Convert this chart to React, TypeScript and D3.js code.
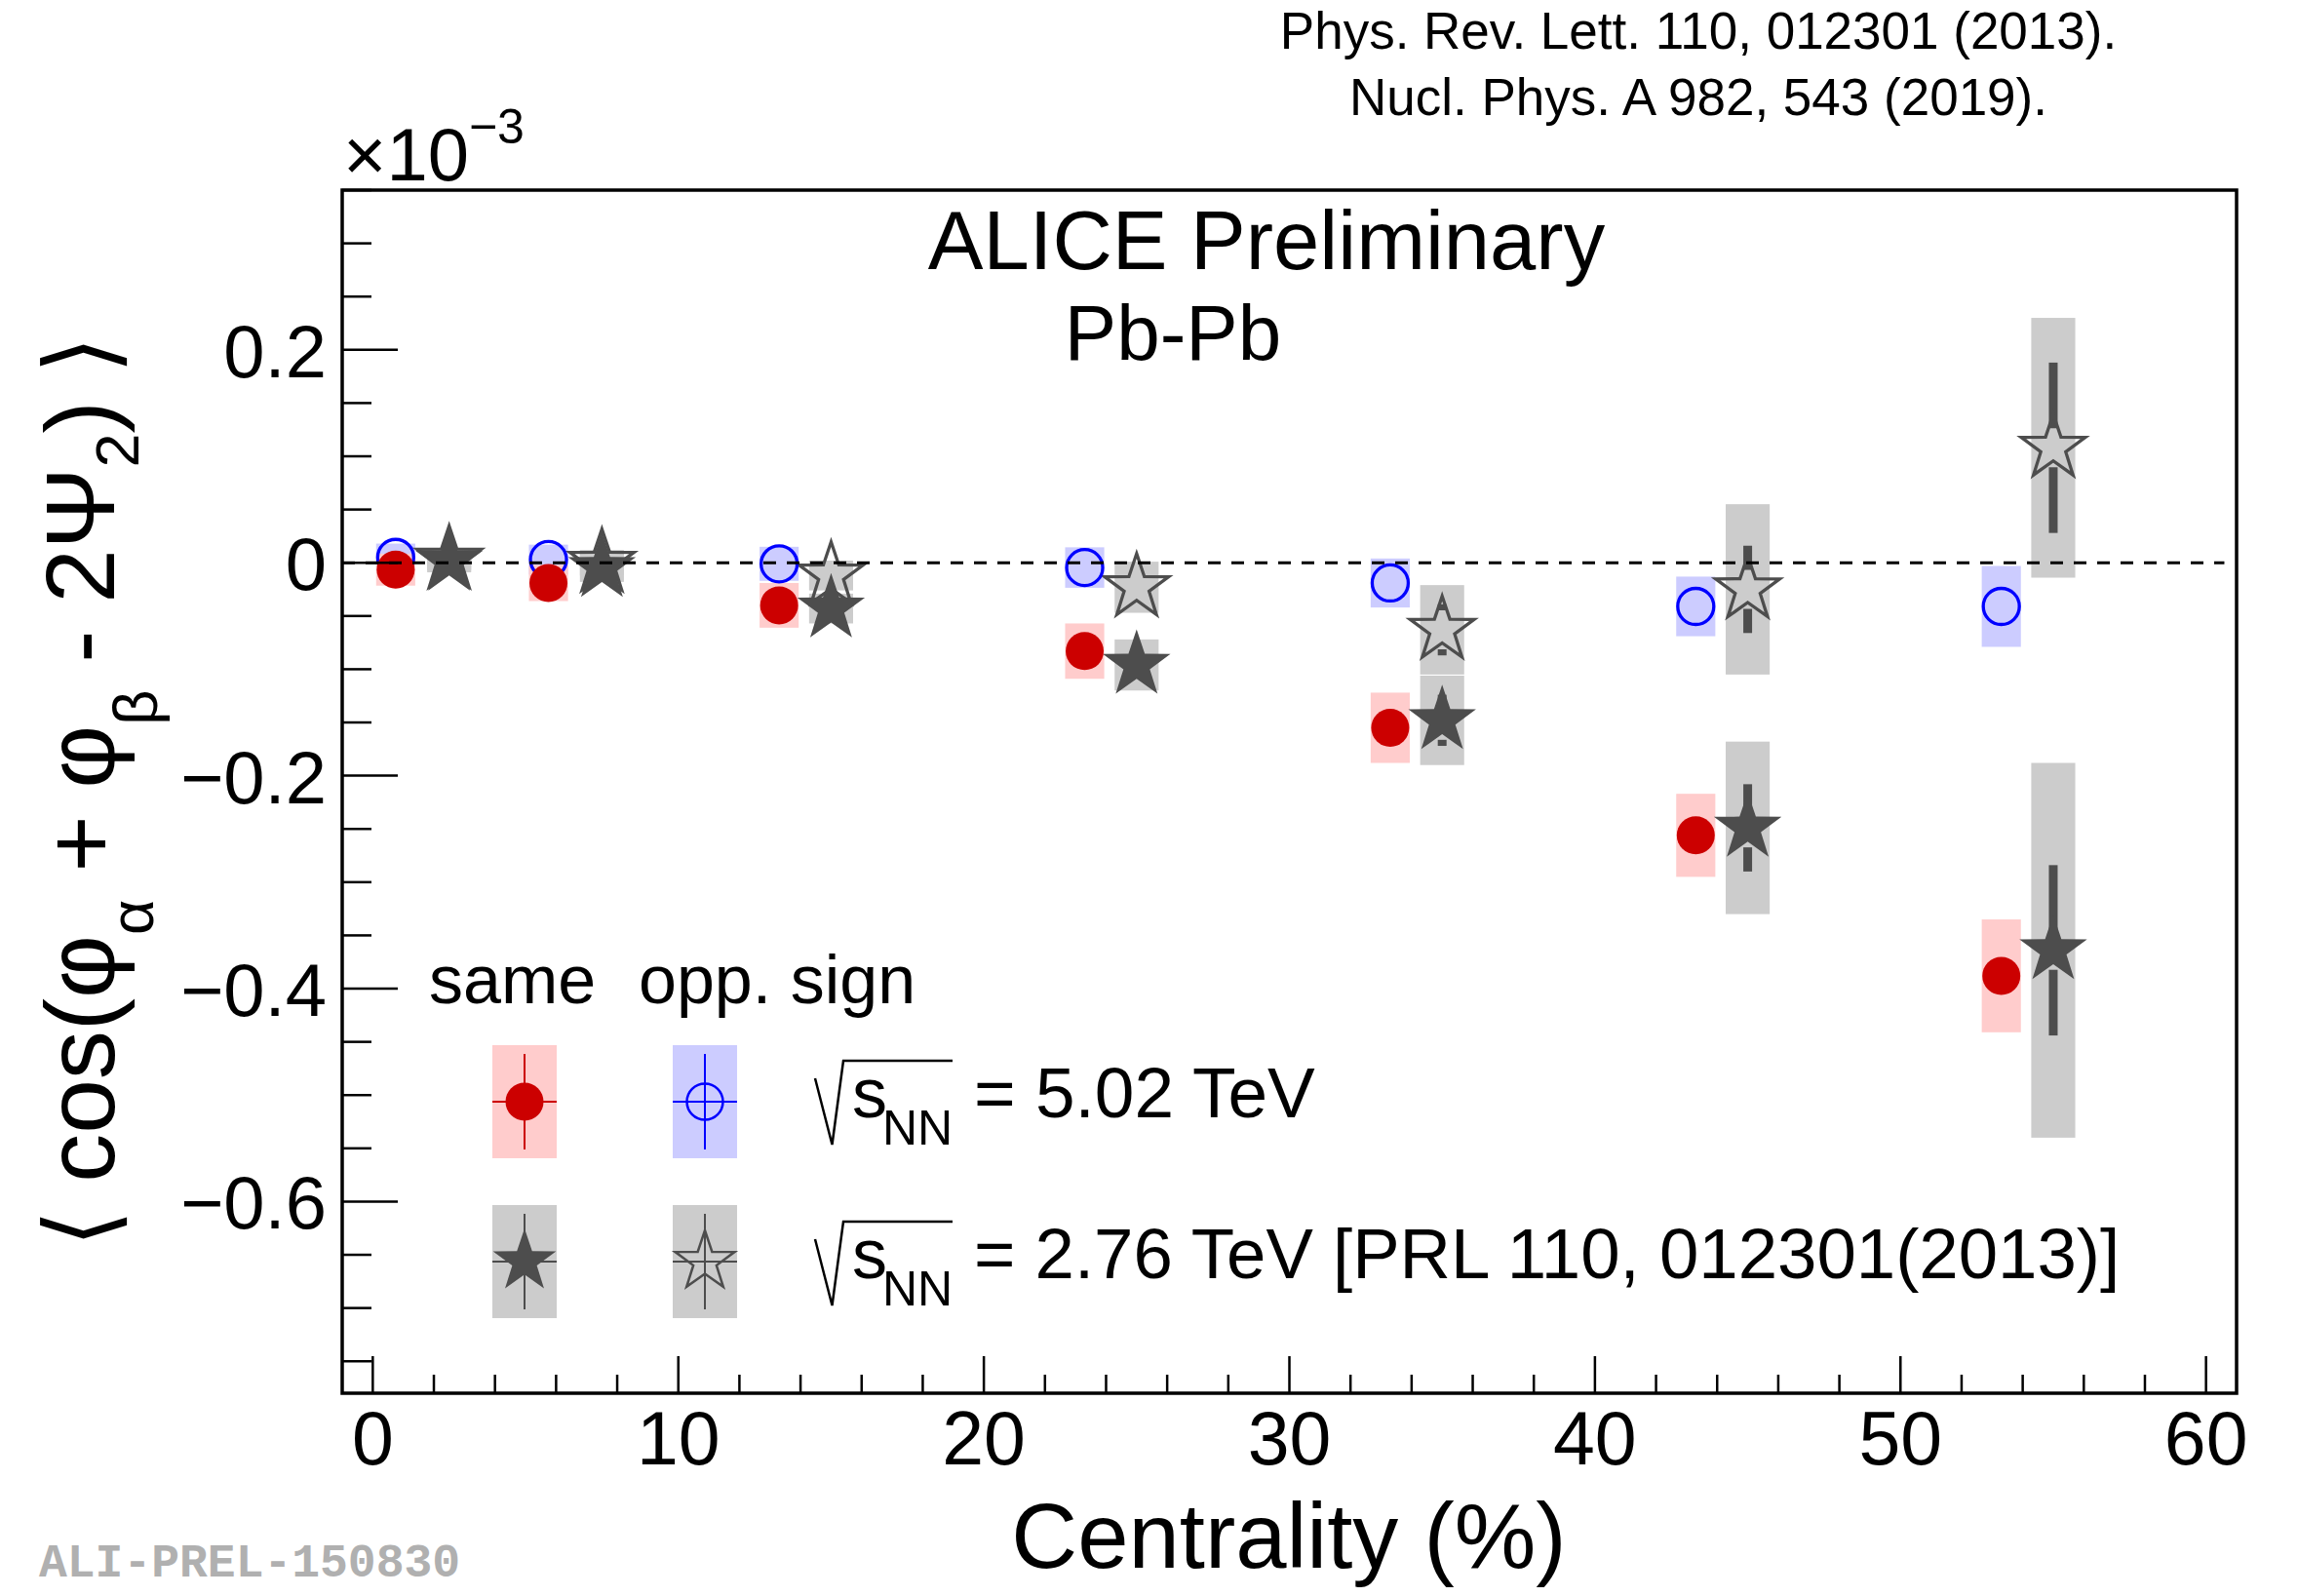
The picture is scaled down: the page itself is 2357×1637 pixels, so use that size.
import React from 'react';
import * as d3 from 'd3';

// ---------------- data (values in units of 1e-3) ----------------
const centrality502 = [0.75, 5.75, 13.3, 23.3, 33.3, 43.3, 53.3];
const centrality276 = [2.5, 7.5, 15, 25, 35, 45, 55];

const same502 = [-0.0065, -0.019, -0.04, -0.083, -0.155, -0.256, -0.388];
const same502Stat = [0.002, 0.003, 0.004, 0.005, 0.007, 0.01, 0.015];
const same502Sys = [0.015, 0.017, 0.021, 0.026, 0.033, 0.039, 0.053];

const opp502 = [0.005, 0.003, -0.001, -0.0045, -0.019, -0.041, -0.041];
const opp502Stat = [0.002, 0.003, 0.004, 0.005, 0.007, 0.01, 0.015];
const opp502Sys = [0.013, 0.014, 0.016, 0.019, 0.023, 0.028, 0.038];

const same276 = [0.001, -0.005, -0.043, -0.096, -0.148, -0.249, -0.364];
const same276Stat = [0.004, 0.006, 0.008, 0.012, 0.024, 0.041, 0.08];
const same276Sys = [0.01, 0.013, 0.014, 0.024, 0.042, 0.081, 0.176];

const opp276 = [0.003, 0.0, -0.012, -0.023, -0.063, -0.025, 0.108];
const opp276Stat = [0.004, 0.006, 0.008, 0.012, 0.024, 0.041, 0.08];
const opp276Sys = [0.01, 0.012, 0.014, 0.024, 0.042, 0.08, 0.122];

const xMajorTicks = [0, 10, 20, 30, 40, 50, 60];
const yMajorTicks = [-0.6, -0.4, -0.2, 0, 0.2];
const yTickLabels = ['\u22120.6', '\u22120.4', '\u22120.2', '0', '0.2'];

// ---------------- layout ----------------
const W = 2357;
const H = 1637;
const L = 351, R = 2294, T = 195, B = 1429;
const FONT = "'Liberation Sans', Arial, Helvetica, sans-serif";

const x = d3.scaleLinear().domain([-1, 61]).range([L, R]);
const y = d3.scaleLinear().domain([-0.78, 0.35]).range([B, T]);

const RED = '#cc0000';
const RED_BOX = '#ffcccc';
const BLUE = '#0000ff';
const BLUE_BOX = '#ccccff';
const GREY = '#4d4d4d';
const GREY_BOX = '#cccccc';

function starPath(cx: number, cy: number, r: number, ratio = 0.39) {
  const pts: [number, number][] = [];
  for (let i = 0; i < 10; i++) {
    const a = (-90 + i * 36) * Math.PI / 180;
    const rr = i % 2 === 0 ? r : r * ratio;
    pts.push([cx + rr * Math.cos(a), cy + rr * Math.sin(a)]);
  }
  return 'M' + pts.map(p => p[0].toFixed(2) + ',' + p[1].toFixed(2)).join('L') + 'Z';
}

type Series = {
  xs: number[];
  vals: number[];
  stat: number[];
  sys: number[];
  boxColor: string;
  barColor: string;
  boxHalf: number; // in centrality units
};

const series502same: Series = { xs: centrality502, vals: same502, stat: same502Stat, sys: same502Sys, boxColor: RED_BOX, barColor: RED, boxHalf: 0.64 };
const series502opp: Series = { xs: centrality502, vals: opp502, stat: opp502Stat, sys: opp502Sys, boxColor: BLUE_BOX, barColor: BLUE, boxHalf: 0.64 };
const series276same: Series = { xs: centrality276, vals: same276, stat: same276Stat, sys: same276Sys, boxColor: GREY_BOX, barColor: GREY, boxHalf: 0.72 };
const series276opp: Series = { xs: centrality276, vals: opp276, stat: opp276Stat, sys: opp276Sys, boxColor: GREY_BOX, barColor: GREY, boxHalf: 0.72 };

const GAP = 20;

function Boxes({ s }: { s: Series }) {
  return (
    <g>
      {s.vals.map((v, i) => (
        <rect key={i}
          x={x(s.xs[i] - s.boxHalf)}
          width={x(s.xs[i] + s.boxHalf) - x(s.xs[i] - s.boxHalf)}
          y={y(v + s.sys[i])}
          height={y(v - s.sys[i]) - y(v + s.sys[i])}
          fill={s.boxColor} />
      ))}
    </g>
  );
}

function StatBars({ s, w }: { s: Series; w: number }) {
  const segs: React.ReactNode[] = [];
  s.vals.forEach((v, i) => {
    const cx = x(s.xs[i]);
    const cy = y(v);
    const top = y(v + s.stat[i]);
    const bot = y(v - s.stat[i]);
    if (top < cy - GAP) segs.push(<line key={'t' + i} x1={cx} x2={cx} y1={top} y2={cy - GAP} stroke={s.barColor} strokeWidth={w} />);
    if (bot > cy + GAP) segs.push(<line key={'b' + i} x1={cx} x2={cx} y1={cy + GAP} y2={bot} stroke={s.barColor} strokeWidth={w} />);
  });
  return <g>{segs}</g>;
}

export default function App() {
  const xMinor = d3.range(0, 61, 2).filter(v => v % 10 !== 0);
  const yMinor = d3.range(-0.75, 0.351, 0.05).map(v => Math.round(v * 100) / 100).filter(v => !yMajorTicks.some(m => Math.abs(m - v) < 1e-6));

  // legend geometry
  const legC1 = 538, legC2 = 723;
  const legRow1 = 1130, legRow2 = 1294;
  const legBoxW = 66, legBoxH = 116;

  const radical = (dy: number) =>
    `M836,${1106 + dy} L853.5,${1174 + dy} L865,${1088 + dy} L977,${1088 + dy}`;

  return (
    <svg width={W} height={H} style={{ position: 'absolute', left: 0, top: 0, background: '#fff' }} fontFamily={FONT}>
      <rect x={0} y={0} width={W} height={H} fill="#fff" />

      {/* top references */}
      <text x={1742} y={50} fontSize={53} textAnchor="middle">Phys. Rev. Lett. 110, 012301 (2013).</text>
      <text x={1742} y={118} fontSize={53} textAnchor="middle">Nucl. Phys. A 982, 543 (2019).</text>

      {/* exponent */}
      <text x={352} y={185} fontSize={76}>×10<tspan fontSize={50} dy={-38}>−3</tspan></text>

      {/* systematic boxes */}
      <Boxes s={series276opp} />
      <Boxes s={series276same} />
      <Boxes s={series502opp} />
      <Boxes s={series502same} />

      {/* statistical bars */}
      <StatBars s={series276opp} w={9} />
      <StatBars s={series276same} w={9} />
      <StatBars s={series502opp} w={4} />
      <StatBars s={series502same} w={4} />

      {/* markers */}
      {opp276.map((v, i) => (
        <path key={'os' + i} d={starPath(x(centrality276[i]), y(v), 34.5)} fill="none" stroke={GREY} strokeWidth={3.3} strokeLinejoin="miter" />
      ))}
      {same276.map((v, i) => (
        <path key={'fs' + i} d={starPath(x(centrality276[i]), y(v), 36.5)} fill={GREY} />
      ))}
      {opp502.map((v, i) => (
        <circle key={'oc' + i} cx={x(centrality502[i])} cy={y(v)} r={18.5} fill="none" stroke={BLUE} strokeWidth={3.3} />
      ))}
      {same502.map((v, i) => (
        <circle key={'fc' + i} cx={x(centrality502[i])} cy={y(v)} r={19.5} fill={RED} />
      ))}

      {/* zero line */}
      <line x1={x(-1)} x2={x(60.6)} y1={y(0)} y2={y(0)} stroke="#000" strokeWidth={3} strokeDasharray="13 11" />

      {/* frame */}
      <rect x={L} y={T} width={R - L} height={B - T} fill="none" stroke="#000" strokeWidth={3.5} />

      {/* x ticks */}
      {xMajorTicks.map(t => (
        <line key={'xM' + t} x1={x(t)} x2={x(t)} y1={B} y2={B - 38} stroke="#000" strokeWidth={2.5} />
      ))}
      {xMinor.map(t => (
        <line key={'xm' + t} x1={x(t)} x2={x(t)} y1={B} y2={B - 19} stroke="#000" strokeWidth={2.5} />
      ))}
      {xMajorTicks.map(t => (
        <text key={'xl' + t} x={x(t)} y={1502} fontSize={77} textAnchor="middle">{t}</text>
      ))}

      {/* y ticks */}
      {yMajorTicks.map(t => (
        <line key={'yM' + t} x1={L} x2={L + 57} y1={y(t)} y2={y(t)} stroke="#000" strokeWidth={2.5} />
      ))}
      {yMinor.map(t => (
        <line key={'ym' + t} x1={L} x2={L + 30} y1={y(t)} y2={y(t)} stroke="#000" strokeWidth={2.5} />
      ))}
      {yMajorTicks.map((t, i) => (
        <text key={'yl' + t} x={335} y={y(t) + 28} fontSize={76} textAnchor="end">{yTickLabels[i]}</text>
      ))}

      {/* axis titles */}
      <text x={1322} y={1608} fontSize={94} textAnchor="middle">Centrality (%)</text>
      <g transform="translate(117,812) rotate(-90)">
        <text x={0} y={0} fontSize={100} textAnchor="middle">
          <tspan fontFamily="'DejaVu Sans'" fontSize={100}>⟨</tspan>
          <tspan> cos(φ</tspan>
          <tspan fontSize={63} dy={40}>α</tspan>
          <tspan dy={-40}> + φ</tspan>
          <tspan fontSize={63} dy={44}>β</tspan>
          <tspan dy={-44}> - 2Ψ</tspan>
          <tspan fontSize={63} dy={25}>2</tspan>
          <tspan dy={-25}>) </tspan>
          <tspan fontFamily="'DejaVu Sans'" fontSize={100}>⟩</tspan>
        </text>
      </g>

      {/* labels */}
      <text x={1299} y={276} fontSize={85} textAnchor="middle">ALICE Preliminary</text>
      <text x={1203} y={369} fontSize={80} textAnchor="middle">Pb-Pb</text>

      {/* legend */}
      <text x={440} y={1029} fontSize={70}>same</text>
      <text x={655} y={1029} fontSize={70}>opp. sign</text>

      <rect x={legC1 - legBoxW / 2} y={legRow1 - legBoxH / 2} width={legBoxW} height={legBoxH} fill={RED_BOX} />
      <rect x={legC2 - legBoxW / 2} y={legRow1 - legBoxH / 2} width={legBoxW} height={legBoxH} fill={BLUE_BOX} />
      <rect x={legC1 - legBoxW / 2} y={legRow2 - legBoxH / 2} width={legBoxW} height={legBoxH} fill={GREY_BOX} />
      <rect x={legC2 - legBoxW / 2} y={legRow2 - legBoxH / 2} width={legBoxW} height={legBoxH} fill={GREY_BOX} />

      <line x1={legC1} x2={legC1} y1={legRow1 - 49} y2={legRow1 + 49} stroke={RED} strokeWidth={2} />
      <line x1={legC1 - legBoxW / 2} x2={legC1 + legBoxW / 2} y1={legRow1} y2={legRow1} stroke={RED} strokeWidth={2} />
      <circle cx={legC1} cy={legRow1} r={19.5} fill={RED} />

      <line x1={legC2} x2={legC2} y1={legRow1 - 49} y2={legRow1 + 49} stroke={BLUE} strokeWidth={2} />
      <line x1={legC2 - legBoxW / 2} x2={legC2 + legBoxW / 2} y1={legRow1} y2={legRow1} stroke={BLUE} strokeWidth={2} />
      <circle cx={legC2} cy={legRow1} r={18.5} fill="none" stroke={BLUE} strokeWidth={2.5} />

      <line x1={legC1} x2={legC1} y1={legRow2 - 49} y2={legRow2 + 49} stroke={GREY} strokeWidth={2} />
      <line x1={legC1 - legBoxW / 2} x2={legC1 + legBoxW / 2} y1={legRow2} y2={legRow2} stroke={GREY} strokeWidth={2} />
      <path d={starPath(legC1, legRow2, 34)} fill={GREY} />

      <line x1={legC2} x2={legC2} y1={legRow2 - 49} y2={legRow2 + 49} stroke={GREY} strokeWidth={2} />
      <line x1={legC2 - legBoxW / 2} x2={legC2 + legBoxW / 2} y1={legRow2} y2={legRow2} stroke={GREY} strokeWidth={2} />
      <path d={starPath(legC2, legRow2, 32)} fill="none" stroke={GREY} strokeWidth={2.5} />

      <path d={radical(0)} fill="none" stroke="#000" strokeWidth={2.5} />
      <text x={874} y={1146} fontSize={72}>s</text>
      <text x={905} y={1174} fontSize={50}>NN</text>
      <text x={999} y={1146} fontSize={73}>= 5.02 TeV</text>

      <path d={radical(165)} fill="none" stroke="#000" strokeWidth={2.5} />
      <text x={874} y={1311} fontSize={72}>s</text>
      <text x={905} y={1339} fontSize={50}>NN</text>
      <text x={999} y={1311} fontSize={72.6}>= 2.76 TeV [PRL 110, 012301(2013)]</text>

      <text x={40} y={1617} fontSize={48} fontWeight="bold" fontFamily="'Liberation Mono', 'DejaVu Sans Mono', monospace" fill="#b0b0b0">ALI-PREL-150830</text>
    </svg>
  );
}
